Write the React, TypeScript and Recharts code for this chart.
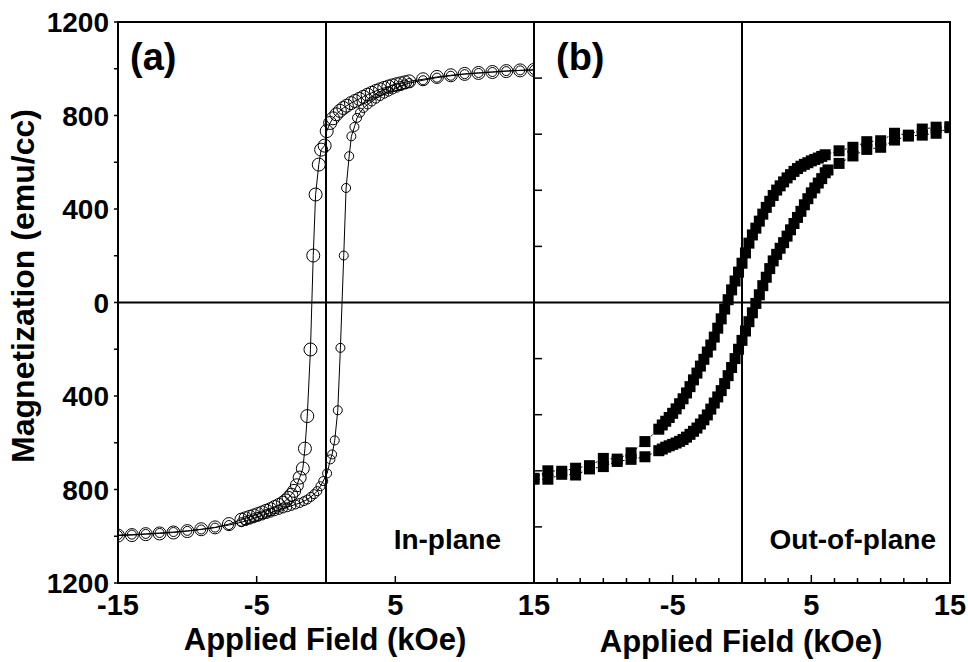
import React from "react";
import { ScatterChart, Scatter, XAxis, YAxis, ReferenceLine, ReferenceArea } from "recharts";

const FONT = '"Liberation Sans", Arial, Helvetica, sans-serif';
const INK = "#000";

// [field (kOe), magnetization (emu/cc)]
// (a) in-plane loop: sweep from +15 down to -15, then back up
const inPlaneDown: [number, number][] = [
  [15, 995], [14, 993], [13, 990], [12, 986], [11, 982], [10, 978], [9, 972], [8, 965], [7, 955], [6, 946],
  [5.7, 942], [5.4, 938], [5.1, 934], [4.8, 929], [4.5, 924], [4.2, 918], [3.9, 912], [3.6, 905], [3.3, 897],
  [3.0, 889], [2.7, 880], [2.4, 871], [2.1, 862], [1.8, 853], [1.5, 842], [1.25, 832], [1.0, 820], [0.75, 805],
  [0.5, 788], [0.3, 768], [0.05, 733], [-0.1, 671], [-0.35, 654], [-0.52, 590], [-0.75, 462], [-0.92, 201],
  [-1.12, -201], [-1.35, -486], [-1.52, -625], [-1.67, -710], [-1.9, -749], [-2.1, -782], [-2.3, -806],
  [-2.5, -822], [-2.7, -836], [-2.9, -847], [-3.1, -856], [-3.4, -866], [-3.7, -875], [-4.0, -884], [-4.3, -891],
  [-4.6, -898], [-4.9, -905], [-5.2, -911], [-5.5, -917], [-5.8, -923], [-6.1, -929], [-7, -948], [-8, -962],
  [-9, -970], [-10, -978], [-11, -984], [-12, -988], [-13, -991], [-14, -995], [-15, -997],
];
const inPlaneUp: [number, number][] = [
  [-15, -995], [-14, -993], [-13, -990], [-12, -986], [-11, -982], [-10, -977], [-9, -971], [-8, -963], [-7, -952],
  [-6.1, -940], [-5.8, -935], [-5.5, -929], [-5.2, -923], [-4.9, -917], [-4.6, -911], [-4.3, -905], [-4.0, -899],
  [-3.7, -893], [-3.4, -887], [-3.1, -881], [-2.8, -876], [-2.5, -870], [-2.2, -864], [-1.9, -858], [-1.6, -850],
  [-1.35, -843], [-1.1, -832], [-0.85, -820], [-0.63, -807], [-0.4, -786], [-0.2, -764], [0.08, -731], [0.32, -671],
  [0.44, -650], [0.63, -590], [0.85, -461], [1.04, -194], [1.28, 201], [1.45, 490], [1.67, 626], [1.83, 711],
  [2.05, 751], [2.24, 790], [2.45, 812], [2.7, 832], [3.0, 847], [3.3, 860], [3.6, 872], [3.9, 883], [4.2, 893],
  [4.5, 902], [4.8, 911], [5.1, 919], [5.4, 926], [5.7, 933], [6.0, 939], [7, 951], [8, 962], [9, 970], [10, 977],
  [11, 982], [12, 986], [13, 990], [14, 993], [15, 995],
];

// (b) out-of-plane loop
const outPlaneDown: [number, number][] = [
  [15, 752], [14, 750], [13, 742], [12, 716], [11, 724], [10, 692], [9, 688], [8, 664], [7, 649],
  [6.0, 632], [5.75, 625], [5.5, 618], [5.25, 612], [5.0, 606], [4.75, 598], [4.5, 591], [4.25, 583], [4.0, 573],
  [3.75, 561], [3.5, 547], [3.25, 533], [3.0, 516], [2.75, 499], [2.5, 481], [2.25, 458], [2.0, 433], [1.75, 407],
  [1.5, 378], [1.25, 348], [1.0, 318], [0.75, 289], [0.5, 254], [0.25, 212], [0.0, 168], [-0.25, 130], [-0.5, 92],
  [-0.75, 54], [-1.0, 12], [-1.25, -28], [-1.5, -70], [-1.75, -110], [-2.0, -148], [-2.25, -182], [-2.5, -212],
  [-2.75, -243], [-3.0, -272], [-3.25, -302], [-3.5, -331], [-3.75, -360], [-4.0, -387], [-4.25, -412],
  [-4.5, -433], [-4.75, -455], [-5.0, -474], [-5.25, -492], [-5.5, -508], [-5.75, -524], [-6.0, -542],
  [-7, -595], [-8, -643], [-9, -670], [-10, -667], [-11, -698], [-12, -709], [-13, -722], [-14, -720], [-15, -752],
];
const outPlaneUp: [number, number][] = [
  [-15, -756], [-14, -756], [-13, -735], [-12, -738], [-11, -712], [-10, -702], [-9, -680], [-8, -671], [-7, -660],
  [-6.0, -634], [-5.75, -627], [-5.5, -619], [-5.25, -613], [-5.0, -607], [-4.75, -601], [-4.5, -594], [-4.25, -586],
  [-4.0, -576], [-3.75, -564], [-3.5, -551], [-3.25, -537], [-3.0, -520], [-2.75, -502], [-2.5, -481], [-2.25, -456],
  [-2.0, -430], [-1.75, -404], [-1.5, -377], [-1.25, -347], [-1.0, -313], [-0.75, -278], [-0.5, -240], [-0.25, -200],
  [0.0, -162], [0.25, -122], [0.5, -82], [0.75, -44], [1.0, -4], [1.25, 33], [1.5, 72], [1.75, 108], [2.0, 145],
  [2.25, 178], [2.5, 206], [2.75, 232], [3.0, 256], [3.25, 284], [3.5, 311], [3.75, 338], [4.0, 364], [4.25, 390],
  [4.5, 418], [4.75, 444], [5.0, 469], [5.25, 490], [5.5, 511], [5.75, 530], [6.0, 555], [6.2, 567],
  [7, 595], [8, 627], [9, 655], [10, 664], [11, 695], [12, 712], [13, 716], [14, 724], [15, 748],
];

const fieldDomain = [-15, 15];
const momentDomain = [-1200, 1200];
const inPlaneXTicks = [-15, -5, 5, 15];
const inPlaneYTicks = [-1200, -1000, -800, -600, -400, -200, 0, 200, 400, 600, 800, 1000, 1200];
const outPlaneXTicks = [
  -15, -13.33, -11.67, -10, -8.33, -6.67, -5, -3.33, -1.67, 0, 1.67, 3.33, 5, 6.67, 8.33, 10, 11.67, 13.33, 15,
];
const outPlaneXLabels = [-5, 5, 15];
const outPlaneYTicks = [-960, -720, -480, -240, 240, 480, 720, 960];

const toPoints = (rows: [number, number][]) => rows.map(([h, m]) => ({ h, m }));

const tickText = { fontFamily: FONT, fontWeight: 700, fontSize: 28, fill: INK };

function InPlaneYTick({ x, y, payload }: any) {
  const v = payload.value as number;
  return (
    <g>
      <line x1={x} x2={x - 4} y1={y} y2={y} stroke={INK} strokeWidth={1.5} />
      {v % 400 === 0 && (
        <text x={x - 9} y={y + 10} textAnchor="end" style={tickText}>
          {Math.abs(v)}
        </text>
      )}
    </g>
  );
}

function InPlaneXTick({ x, y, payload }: any) {
  return (
    <g>
      <line x1={x} x2={x} y1={y} y2={y - 7} stroke={INK} strokeWidth={1.5} />
      <text x={x} y={y + 32} textAnchor="middle" style={{ ...tickText, fontSize: 29 }}>
        {payload.value}
      </text>
    </g>
  );
}

function OutPlaneXTick({ x, y, payload }: any) {
  const v = payload.value as number;
  const major = Math.abs(v) % 10 === 5;
  return (
    <g>
      <line x1={x} x2={x} y1={y} y2={y - (major ? 8 : 5)} stroke={INK} strokeWidth={1.5} />
      {outPlaneXLabels.includes(v) && (
        <text x={x} y={y + 32} textAnchor="middle" style={{ ...tickText, fontSize: 29 }}>
          {v}
        </text>
      )}
    </g>
  );
}

function OutPlaneYTick({ x, y }: any) {
  return <line x1={x} x2={x + 8} y1={y} y2={y} stroke={INK} strokeWidth={1.5} />;
}

const bigCircle = (p: any) => <circle cx={p.cx} cy={p.cy} r={6.5} fill="none" stroke={INK} strokeWidth={1} />;
const smallCircle = (p: any) => <circle cx={p.cx} cy={p.cy} r={4.5} fill="none" stroke={INK} strokeWidth={1} />;
const square = (p: any) => <rect x={p.cx - 5.5} y={p.cy - 5.5} width={11} height={11} fill={INK} />;

function Frame() {
  return (
    <>
      <ReferenceLine x={0} stroke={INK} strokeWidth={2} />
      <ReferenceLine y={0} stroke={INK} strokeWidth={2} />
      <ReferenceArea x1={-15} x2={15} y1={-1200} y2={1200} fill="none" fillOpacity={0} stroke={INK} strokeWidth={2} />
    </>
  );
}

export default function App() {
  return (
    <div style={{ position: "absolute", left: 0, top: 0, width: 968, height: 662, background: "#fff" }}>
      <div style={{ position: "absolute", left: 0, top: 0 }}>
        <ScatterChart width={562} height={662} margin={{ top: 22, right: 28, bottom: 0, left: 0 }}>
          <XAxis type="number" dataKey="h" domain={fieldDomain} ticks={inPlaneXTicks} interval={0}
            allowDataOverflow height={79} tickSize={0} tickMargin={0} tickLine={false} axisLine={false}
            tick={<InPlaneXTick />} />
          <YAxis type="number" dataKey="m" domain={momentDomain} ticks={inPlaneYTicks} interval={0}
            allowDataOverflow width={118} tickSize={0} tickMargin={0} tickLine={false} axisLine={false}
            tick={<InPlaneYTick />} />
          {Frame()}
          <Scatter data={toPoints(inPlaneDown)} line={{ stroke: INK, strokeWidth: 1 }} shape={bigCircle}
            isAnimationActive={false} />
          <Scatter data={toPoints(inPlaneUp)} line={{ stroke: INK, strokeWidth: 1 }} shape={smallCircle}
            isAnimationActive={false} />
        </ScatterChart>
      </div>
      <div style={{ position: "absolute", left: 500, top: 0 }}>
        <ScatterChart width={468} height={662} margin={{ top: 22, right: 18, bottom: 0, left: 0 }}>
          <XAxis type="number" dataKey="h" domain={fieldDomain} ticks={outPlaneXTicks} interval={0}
            allowDataOverflow height={79} tickSize={0} tickMargin={0} tickLine={false} axisLine={false}
            tick={<OutPlaneXTick />} />
          <YAxis type="number" dataKey="m" domain={momentDomain} ticks={outPlaneYTicks} interval={0}
            allowDataOverflow width={34} tickSize={0} tickMargin={0} tickLine={false} axisLine={false}
            tick={<OutPlaneYTick />} />
          {Frame()}
          <Scatter data={toPoints(outPlaneDown)} line={{ stroke: INK, strokeWidth: 1, strokeDasharray: "2 2" }}
            shape={square} isAnimationActive={false} />
          <Scatter data={toPoints(outPlaneUp)} line={{ stroke: INK, strokeWidth: 1, strokeDasharray: "2 2" }}
            shape={square} isAnimationActive={false} />
        </ScatterChart>
      </div>
      <svg width={968} height={662} style={{ position: "absolute", left: 0, top: 0, pointerEvents: "none" }}
        fontFamily={FONT} fontWeight={700} fill={INK}>
        <text transform="translate(34 286) rotate(-90)" textAnchor="middle" fontSize={32}>
          Magnetization (emu/cc)
        </text>
        <text x={325} y={650} textAnchor="middle" fontSize={31}>Applied Field (kOe)</text>
        <text x={741} y={652} textAnchor="middle" fontSize={31}>Applied Field (kOe)</text>
        <text x={130} y={70} fontSize={38}>(a)</text>
        <text x={556} y={70} fontSize={38}>(b)</text>
        <text x={501} y={549} textAnchor="end" fontSize={28}>In-plane</text>
        <text x={936} y={549} textAnchor="end" fontSize={28}>Out-of-plane</text>
      </svg>
    </div>
  );
}
